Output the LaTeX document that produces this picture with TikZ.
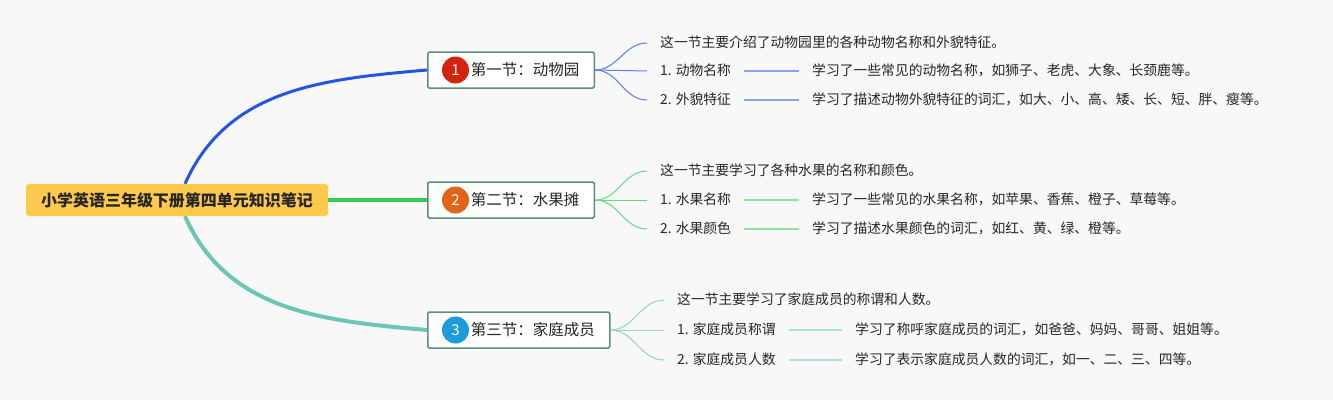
\documentclass[tikz,border=0pt]{standalone}
\usepackage{fontspec}
\setmainfont{Noto Sans CJK SC}
\definecolor{bg}{HTML}{F8F8F8}
\definecolor{rootfill}{HTML}{FFC94E}
\definecolor{boxline}{HTML}{5A8F80}
\definecolor{zoocol}{HTML}{2356E0}
\definecolor{fruitcol}{HTML}{33CC55}
\definecolor{familycol}{HTML}{6CC5B5}
\definecolor{badgeone}{HTML}{D42410}
\definecolor{badgetwo}{HTML}{E0651A}
\definecolor{badgethree}{HTML}{1E9BDB}
\begin{document}
\begin{tikzpicture}[x=1pt, y=1pt, text=black!85,
    sec/.style={draw=boxline, line width=1.5pt, fill=white, rounded corners=1.5pt, anchor=west, minimum height=36pt, inner xsep=15pt, font=\fontsize{15.5}{18}\selectfont},
    badge/.style={circle, fill=#1, text=white, minimum size=27pt, inner sep=0pt, font=\fontsize{15}{18}\selectfont},
    leaf/.style={anchor=west, inner xsep=13pt, inner ysep=2pt, text height=11pt, text depth=3pt, font=\fontsize{13.8}{16}\selectfont},
    mainline/.style={draw=#1, line width=3.5pt},
    subline/.style={draw=#1!75!white, line width=1pt},
    linkline/.style={draw=#1!55!white, line width=1.5pt}]
    \fill[bg] (0,0) rectangle (1333,-400);
    \useasboundingbox (0,0) rectangle (1333,-400);
    \node[fill=rootfill, rounded corners=3pt, minimum height=32pt, inner xsep=15pt, font=\bfseries\fontsize{16}{19}\selectfont] (root) at (177,-200) {小学英语三年级下册第四单元知识笔记};
    % sections
    \node[sec] (zoo) at (427,-70) {\hspace{28pt}第一节：动物园};
    \node[badge=badgeone] (zoobadge) at ([xshift=28.5pt]zoo.west) {1};
    \node[sec] (fruit) at (427,-200) {\hspace{28pt}第二节：水果摊};
    \node[badge=badgetwo] (fruitbadge) at ([xshift=28.5pt]fruit.west) {2};
    \node[sec] (family) at (427,-330) {\hspace{28pt}第三节：家庭成员};
    \node[badge=badgethree] (familybadge) at ([xshift=28.5pt]family.west) {3};
    \draw[mainline=zoocol, line width=3pt] ([xshift=8pt]root.north) to[out=66,in=185] (zoo.west);
    \draw[mainline=fruitcol] (root.east) -- (fruit.west);
    \draw[mainline=familycol, line width=4pt] ([xshift=8pt]root.south) to[out=-66,in=175] (family.west);
    % section 1
    \node[leaf] (zooinfo) at (647,-43) {这一节主要介绍了动物园里的各种动物名称和外貌特征。};
    \node[leaf] (zooname) at (647,-71) {1. 动物名称};
    \node[leaf] (zooshape) at (647,-100) {2. 外貌特征};
    \node[leaf] (zoonamedesc) at (799,-71) {学习了一些常见的动物名称，如狮子、老虎、大象、长颈鹿等。};
    \node[leaf] (zooshapedesc) at (799,-100) {学习了描述动物外貌特征的词汇，如大、小、高、矮、长、短、胖、瘦等。};
    \draw[subline=zoocol] (zoo.east) to[out=0,in=180] (zooinfo.west);
    \draw[subline=zoocol] (zoo.east) -- (zooname.west);
    \draw[subline=zoocol] (zoo.east) to[out=0,in=180] (zooshape.west);
    \draw[linkline=zoocol] (zooname.east) -- (zoonamedesc.west);
    \draw[linkline=zoocol] (zooshape.east) -- (zooshapedesc.west);
    % section 2
    \node[leaf] (fruitinfo) at (647,-171) {这一节主要学习了各种水果的名称和颜色。};
    \node[leaf] (fruitname) at (647,-200) {1. 水果名称};
    \node[leaf] (fruitcolour) at (647,-229) {2. 水果颜色};
    \node[leaf] (fruitnamedesc) at (799,-200) {学习了一些常见的水果名称，如苹果、香蕉、橙子、草莓等。};
    \node[leaf] (fruitcolourdesc) at (799,-229) {学习了描述水果颜色的词汇，如红、黄、绿、橙等。};
    \draw[subline=fruitcol] (fruit.east) to[out=0,in=180] (fruitinfo.west);
    \draw[subline=fruitcol] (fruit.east) -- (fruitname.west);
    \draw[subline=fruitcol] (fruit.east) to[out=0,in=180] (fruitcolour.west);
    \draw[linkline=fruitcol] (fruitname.east) -- (fruitnamedesc.west);
    \draw[linkline=fruitcol] (fruitcolour.east) -- (fruitcolourdesc.west);
    % section 3
    \node[leaf] (familyinfo) at (664,-300) {这一节主要学习了家庭成员的称谓和人数。};
    \node[leaf] (familycall) at (664,-330) {1. 家庭成员称谓};
    \node[leaf] (familycount) at (664,-360) {2. 家庭成员人数};
    \node[leaf] (familycalldesc) at (842,-330) {学习了称呼家庭成员的词汇，如爸爸、妈妈、哥哥、姐姐等。};
    \node[leaf] (familycountdesc) at (842,-360) {学习了表示家庭成员人数的词汇，如一、二、三、四等。};
    \draw[subline=familycol] (family.east) to[out=0,in=180] (familyinfo.west);
    \draw[subline=familycol] (family.east) -- (familycall.west);
    \draw[subline=familycol] (family.east) to[out=0,in=180] (familycount.west);
    \draw[linkline=familycol] (familycall.east) -- (familycalldesc.west);
    \draw[linkline=familycol] (familycount.east) -- (familycountdesc.west);
\end{tikzpicture}
\end{document}
